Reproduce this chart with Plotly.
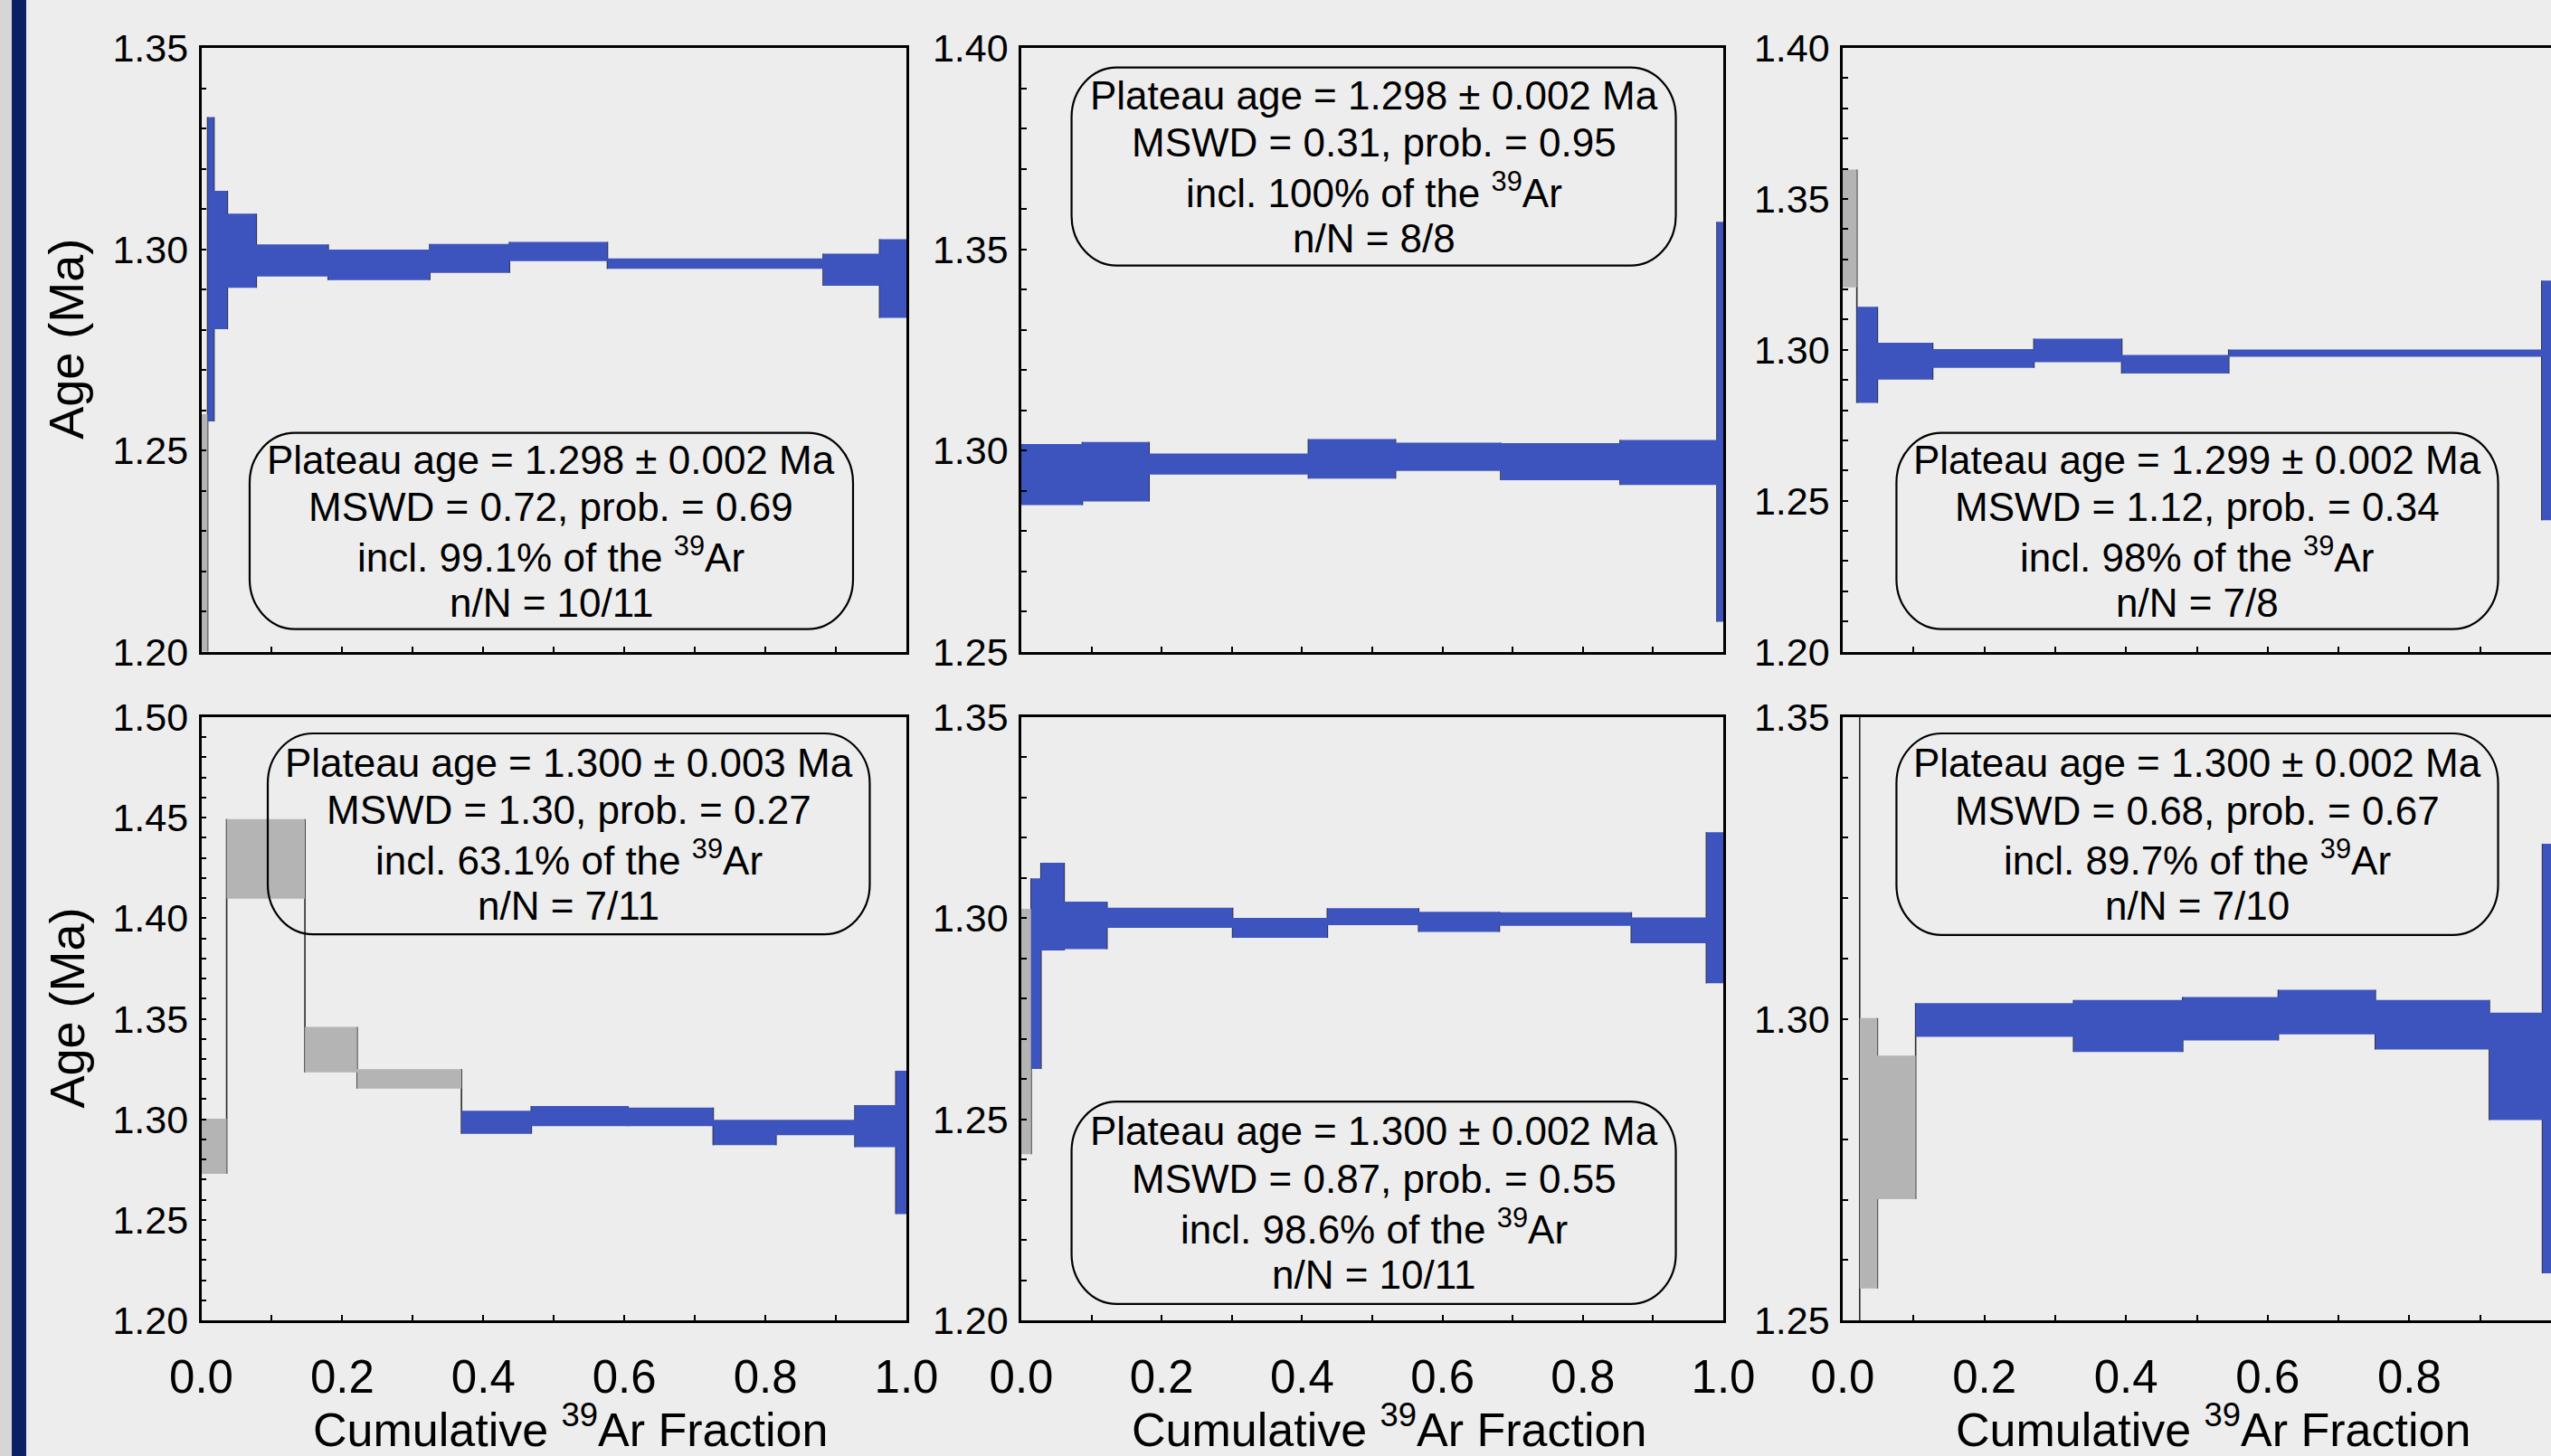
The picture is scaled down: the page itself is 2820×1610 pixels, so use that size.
import plotly.graph_objects as go

W, H = 2820, 1610
FONT = "Liberation Sans, Arial, Helvetica, sans-serif"
BLUE = "#3d53bd"
GREY = "#b4b4b4"
BG = "#ededed"

# ---------------- data ----------------
# cumulative 39Ar fraction step boundaries, step ages (Ma), half-width errors (Ma),
# plateau membership (1 = plateau step, 0 = excluded step)
p1_edges = [0, 0.009, 0.018, 0.037, 0.078, 0.180, 0.324, 0.437, 0.576, 0.882, 0.962, 1.0]
p1_age = [1.200, 1.2950, 1.2973, 1.2996, 1.2972, 1.2961, 1.2977, 1.2994, 1.2964, 1.2949, 1.2927]
p1_err = [0.059, 0.0378, 0.0172, 0.0092, 0.0040, 0.0038, 0.0036, 0.0024, 0.0013, 0.0040, 0.0098]
p1_plateau = [0, 1, 1, 1, 1, 1, 1, 1, 1, 1, 1]

p2_edges = [0, 0.087, 0.182, 0.409, 0.533, 0.683, 0.853, 0.991, 1.0]
p2_age = [1.2940, 1.2947, 1.2966, 1.2979, 1.2984, 1.2972, 1.2970, 1.3071]
p2_err = [0.0076, 0.0074, 0.0026, 0.0049, 0.0035, 0.0046, 0.0056, 0.0497]
p2_plateau = [1, 1, 1, 1, 1, 1, 1, 1]

p3_edges = [0, 0.020, 0.049, 0.127, 0.270, 0.394, 0.545, 0.987, 1.0]
p3_age = [1.3402, 1.2983, 1.2962, 1.2971, 1.2998, 1.2952, 1.2989, 1.2832]
p3_err = [0.0195, 0.0159, 0.0061, 0.0031, 0.0039, 0.0031, 0.0012, 0.0397]
p3_plateau = [0, 1, 1, 1, 1, 1, 1, 1]

p4_edges = [0, 0.036, 0.147, 0.221, 0.369, 0.468, 0.605, 0.726, 0.815, 0.927, 0.985, 1.0]
p4_age = [1.2866, 1.4295, 1.3346, 1.3201, 1.2985, 1.3016, 1.3012, 1.2934, 1.2959, 1.2966, 1.2885]
p4_err = [0.0137, 0.0198, 0.0113, 0.0048, 0.0057, 0.0050, 0.0046, 0.0063, 0.0038, 0.0105, 0.0356]
p4_plateau = [0, 0, 0, 0, 1, 1, 1, 1, 1, 1, 1]

p5_edges = [0, 0.014, 0.028, 0.061, 0.122, 0.301, 0.436, 0.566, 0.681, 0.869, 0.976, 1.0]
p5_age = [1.2718, 1.2862, 1.3029, 1.2982, 1.3001, 1.2976, 1.3004, 1.2991, 1.2998, 1.2970, 1.3026]
p5_err = [0.0305, 0.0237, 0.0109, 0.0059, 0.0025, 0.0025, 0.0021, 0.0025, 0.0017, 0.0032, 0.0188]
p5_plateau = [0, 1, 1, 1, 1, 1, 1, 1, 1, 1, 1]

p6_edges = [0, 0.024, 0.049, 0.103, 0.326, 0.480, 0.615, 0.752, 0.913, 0.988, 1.0]
p6_age = [1.3000, 1.2777, 1.2820, 1.2998, 1.2988, 1.3000, 1.3011, 1.2990, 1.2921, 1.2934]
p6_err = [0.1000, 0.0224, 0.0119, 0.0028, 0.0043, 0.0036, 0.0037, 0.0041, 0.0089, 0.0356]
p6_plateau = [0, 0, 0, 1, 1, 1, 1, 1, 1, 1]

y_ranges = [[1.20, 1.35], [1.25, 1.40], [1.20, 1.40], [1.20, 1.50], [1.20, 1.35], [1.25, 1.35]]

plateau_ages = ["1.298 ± 0.002", "1.298 ± 0.002", "1.299 ± 0.002",
                "1.300 ± 0.003", "1.300 ± 0.002", "1.300 ± 0.002"]
mswd = ["0.72", "0.31", "1.12", "1.30", "0.87", "0.68"]
prob = ["0.69", "0.95", "0.34", "0.27", "0.55", "0.67"]
incl = ["99.1%", "100%", "98%", "63.1%", "98.6%", "89.7%"]
n_of_N = ["10/11", "8/8", "7/8", "7/11", "10/11", "7/10"]

x_tick_labels_rows = [False, True]

# ---------------- layout geometry (pixels) ----------------
COLS = [(222.5, 1002.0), (1129.0, 1905.0), (2037.0, 2820.0)]
ROWS = [(53.0, 720.5), (793.0, 1460.0)]
# stats box position as fractions of each panel (x0, x1, y0, y1)
BOXES = [(0.0686, 0.9243, 0.0374, 0.3623),
         (0.0716, 0.9324, 0.6394, 0.9676),
         (0.0759, 0.9253, 0.0374, 0.3623),
         (0.0943, 0.9480, 0.6400, 0.9730),
         (0.0716, 0.9324, 0.0273, 0.3625),
         (0.0759, 0.9253, 0.6390, 0.9730)]
LINE_STEP = 52.7

panels = [
    (p1_edges, p1_age, p1_err, p1_plateau),
    (p2_edges, p2_age, p2_err, p2_plateau),
    (p3_edges, p3_age, p3_err, p3_plateau),
    (p4_edges, p4_age, p4_err, p4_plateau),
    (p5_edges, p5_age, p5_err, p5_plateau),
    (p6_edges, p6_age, p6_err, p6_plateau),
]

fig = go.Figure()
layout = dict(
    width=W, height=H,
    margin=dict(l=0, r=0, t=0, b=0),
    paper_bgcolor=BG, plot_bgcolor=BG,
    showlegend=False,
    font=dict(family=FONT, color="black"),
    hovermode=False,
)
annotations = []
shapes = []

# decoration at the left edge
shapes.append(dict(type="rect", xref="paper", yref="paper", x0=0, x1=13 / W, y0=0, y1=1,
                   fillcolor="#d6d6d6", line=dict(width=0), layer="below"))
shapes.append(dict(type="rect", xref="paper", yref="paper", x0=13 / W, x1=29 / W, y0=0, y1=1,
                   fillcolor="#0c2163", line=dict(width=0), layer="below"))


def rounded_path(px0, px1, py0, py1, rx, ry):
    k = 0.5523
    def P(x, y):
        return f"{x / W:.6f},{1 - y / H:.6f}"
    d = []
    d.append("M " + P(px0 + rx, py0))
    d.append("L " + P(px1 - rx, py0))
    d.append("C " + P(px1 - rx + k * rx, py0) + " " + P(px1, py0 + ry - k * ry) + " " + P(px1, py0 + ry))
    d.append("L " + P(px1, py1 - ry))
    d.append("C " + P(px1, py1 - ry + k * ry) + " " + P(px1 - rx + k * rx, py1) + " " + P(px1 - rx, py1))
    d.append("L " + P(px0 + rx, py1))
    d.append("C " + P(px0 + rx - k * rx, py1) + " " + P(px0, py1 - ry + k * ry) + " " + P(px0, py1 - ry))
    d.append("L " + P(px0, py0 + ry))
    d.append("C " + P(px0, py0 + ry - k * ry) + " " + P(px0 + rx - k * rx, py0) + " " + P(px0 + rx, py0))
    d.append("Z")
    return " ".join(d)


for i, (edges, age, err, plat) in enumerate(panels):
    n = i + 1
    sfx = "" if n == 1 else str(n)
    xa, ya = "x" + sfx, "y" + sfx
    row, col = i // 3, i % 3
    c0, c1 = COLS[col]
    r0, r1 = ROWS[row]
    yr = y_ranges[i]
    lo = [a - e for a, e in zip(age, err)]
    hi = [a + e for a, e in zip(age, err)]

    # vertical connectors between consecutive steps (drawn beneath the boxes)
    cx, cy = [], []
    for k in range(len(age) - 1):
        b = edges[k + 1]
        cx += [b, b, None]
        cy += [min(lo[k], lo[k + 1]), max(hi[k], hi[k + 1]), None]
    fig.add_trace(go.Scatter(x=cx, y=cy, mode="lines", xaxis=xa, yaxis=ya,
                             line=dict(color="#2a2a2a", width=1.6), hoverinfo="skip"))

    # step boxes
    for flag, colr in ((0, GREY), (1, BLUE)):
        bx, by = [], []
        for k in range(len(age)):
            if plat[k] != flag:
                continue
            if lo[k] <= yr[0] and hi[k] >= yr[1]:
                continue  # box covers whole axis: not filled in the source plot
            x0, x1 = edges[k], edges[k + 1]
            bx += [x0, x1, x1, x0, x0, None]
            by += [lo[k], lo[k], hi[k], hi[k], lo[k], None]
        if bx:
            fig.add_trace(go.Scatter(x=bx, y=by, mode="lines", fill="toself", fillcolor=colr,
                                     line=dict(width=0, color=colr), xaxis=xa, yaxis=ya,
                                     hoverinfo="skip"))

    axis_common = dict(showline=True, mirror=True, linecolor="black", linewidth=2.5,
                       ticks="inside", ticklen=6, tickwidth=2, tickcolor="black",
                       showgrid=False, zeroline=False, automargin=False, fixedrange=True)
    layout["xaxis" + sfx] = dict(
        axis_common, domain=[c0 / W, c1 / W], range=[0, 1], anchor=ya,
        tick0=0, dtick=0.2, tickformat=".1f",
        minor=dict(dtick=0.1, ticks="inside", ticklen=6, tickwidth=2, tickcolor="black"),
        showticklabels=x_tick_labels_rows[row], tickfont=dict(size=51, family=FONT),
        ticklabelstandoff=16,
    )
    layout["yaxis" + sfx] = dict(
        axis_common, domain=[1 - r1 / H, 1 - r0 / H], range=yr, anchor=xa,
        tick0=0, dtick=0.05, tickformat=".2f",
        minor=dict(dtick=0.01, ticks="inside", ticklen=6, tickwidth=2, tickcolor="black"),
        tickfont=dict(size=43, family=FONT), ticklabelstandoff=3,
    )

    # stats box
    bx0, bx1, by0, by1 = BOXES[i]
    px0 = c0 + bx0 * (c1 - c0)
    px1 = c0 + bx1 * (c1 - c0)
    py0 = r1 - by1 * (r1 - r0)
    py1 = r1 - by0 * (r1 - r0)
    shapes.append(dict(type="path", xref="paper", yref="paper",
                       path=rounded_path(px0, px1, py0, py1, 50, 55),
                       line=dict(color="black", width=2.2), fillcolor="rgba(0,0,0,0)"))
    lines = [f"Plateau age = {plateau_ages[i]} Ma",
             f"MSWD = {mswd[i]}, prob. = {prob[i]}",
             f"incl. {incl[i]} of the <sup>39</sup>Ar",
             f"n/N = {n_of_N[i]}"]
    cy_mid = (py0 + py1) / 2
    for k, t in enumerate(lines):
        yc = cy_mid + (k - 1.5) * LINE_STEP
        annotations.append(dict(xref="paper", yref="paper",
                                x=(px0 + px1) / 2 / W, y=1 - yc / H,
                                text=t, showarrow=False, align="center",
                                xanchor="center", yanchor="middle",
                                font=dict(size=44, family=FONT, color="black")))

    if col == 0:
        annotations.append(dict(xref="paper", yref="paper", x=73 / W,
                                y=1 - ((r0 + r1) / 2 - 12) / H,
                                text="Age (Ma)", textangle=-90, showarrow=False,
                                xanchor="center", yanchor="middle",
                                font=dict(size=54, family=FONT, color="black")))
    if row == 1:
        annotations.append(dict(xref="paper", yref="paper", x=(c0 + c1) / 2 / W, xshift=18,
                                y=0, yanchor="bottom", yshift=-2,
                                text="Cumulative <sup>39</sup>Ar Fraction",
                                showarrow=False, xanchor="center",
                                font=dict(size=52, family=FONT, color="black")))

layout["annotations"] = annotations
layout["shapes"] = shapes
fig.update_layout(**layout)
fig.write_html("out.html",
               config={"displayModeBar": False},
               post_script="document.body.style.margin='0';document.body.style.overflow='hidden';")
